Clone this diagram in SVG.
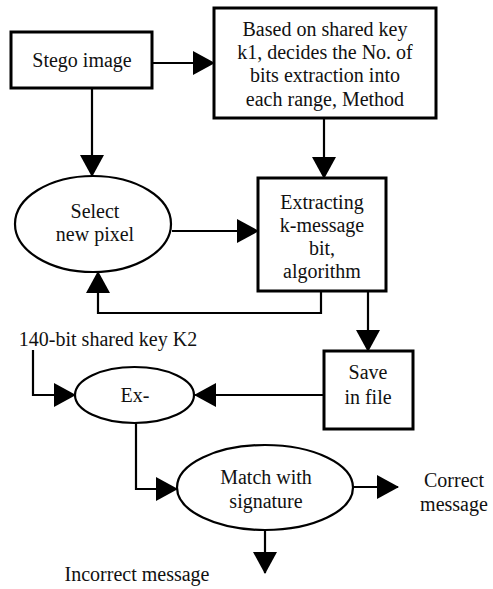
<svg xmlns="http://www.w3.org/2000/svg" width="493" height="589" viewBox="0 0 493 589">
  <style>
    .t { font-family: 'Liberation Serif', serif; font-size: 20px; fill: #111; }
    .box { fill: #fff; stroke: #000; stroke-width: 3; }
    .oval { fill: #fff; stroke: #000; stroke-width: 2.2; }
    .wire { fill: none; stroke: #000; stroke-width: 2.2; marker-end: url(#head); }
  </style>
  <defs>
    <marker id="head" markerUnits="userSpaceOnUse" markerWidth="22" markerHeight="24" refX="21" refY="12" orient="auto">
      <path d="M0,0 L22,12 L0,24 Z" fill="#000"/>
    </marker>
  </defs>
  <rect width="493" height="589" fill="#fff"/>

  <g id="connectors">
    <path class="wire" d="M152,63 H214"/>
    <path class="wire" d="M92,88 V176"/>
    <path class="wire" d="M324,118 V178"/>
    <path class="wire" d="M172,231 H258"/>
    <path class="wire" d="M321,291 V313 H98 V272"/>
    <path class="wire" d="M368,291 V351"/>
    <path class="wire" d="M324,395 H195"/>
    <path class="wire" d="M33,350 V395 H75"/>
    <path class="wire" d="M136,423 V489 H177"/>
    <path class="wire" d="M353,487 H398"/>
    <path class="wire" d="M265,530 V573"/>
  </g>

  <g id="stego-image">
    <rect class="box" x="11" y="32" width="141" height="56"/>
    <text class="t" text-anchor="middle" x="82" y="67">Stego image</text>
  </g>

  <g id="decide-bits">
    <rect class="box" x="214" y="8" width="222" height="110"/>
    <text class="t" text-anchor="middle" x="325" y="36">Based on shared key</text>
    <text class="t" text-anchor="middle" x="325" y="59">k1, decides the No. of</text>
    <text class="t" text-anchor="middle" x="325" y="82">bits extraction into</text>
    <text class="t" text-anchor="middle" x="325" y="106">each range, Method</text>
  </g>

  <g id="select-pixel">
    <ellipse class="oval" cx="93" cy="224" rx="78" ry="48"/>
    <text class="t" text-anchor="middle" x="95" y="218">Select</text>
    <text class="t" text-anchor="middle" x="95" y="241">new pixel</text>
  </g>

  <g id="extracting">
    <rect class="box" x="258" y="178" width="128" height="113"/>
    <text class="t" text-anchor="middle" x="322" y="209">Extracting</text>
    <text class="t" text-anchor="middle" x="322" y="232">k-message</text>
    <text class="t" text-anchor="middle" x="322" y="255">bit,</text>
    <text class="t" text-anchor="middle" x="322" y="278">algorithm</text>
  </g>

  <g id="save-file">
    <rect class="box" x="324" y="351" width="89" height="78"/>
    <text class="t" text-anchor="middle" x="368" y="379">Save</text>
    <text class="t" text-anchor="middle" x="368" y="404">in file</text>
  </g>

  <g id="key-k2">
    <text class="t" text-anchor="middle" x="108" y="346">140-bit shared key K2</text>
  </g>

  <g id="ex">
    <ellipse class="oval" cx="134.5" cy="395" rx="59.5" ry="28"/>
    <text class="t" text-anchor="middle" x="135" y="402">Ex-</text>
  </g>

  <g id="match-signature">
    <ellipse class="oval" cx="265" cy="487.5" rx="88" ry="42.5"/>
    <text class="t" text-anchor="middle" x="266" y="484">Match with</text>
    <text class="t" text-anchor="middle" x="266" y="508">signature</text>
  </g>

  <g id="correct-message">
    <text class="t" text-anchor="middle" x="454" y="487">Correct</text>
    <text class="t" text-anchor="middle" x="454" y="511">message</text>
  </g>

  <g id="incorrect-message">
    <text class="t" text-anchor="middle" x="137" y="581">Incorrect message</text>
  </g>
</svg>
